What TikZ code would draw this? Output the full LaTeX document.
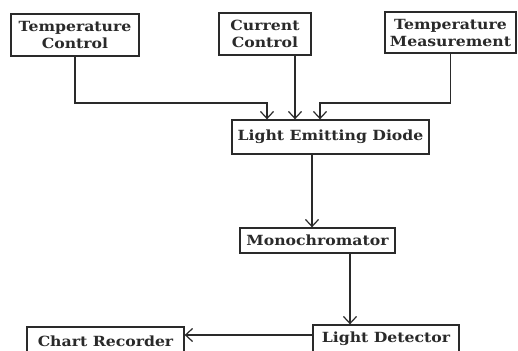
\documentclass[tikz,border=0pt]{standalone}
\usepackage{fontspec}
\setmainfont{DejaVu Serif}[BoldFeatures={FakeStretch=1.12}]
\usetikzlibrary{arrows.meta}
\definecolor{ink}{HTML}{2A2A2A}
\tikzset{
  blk/.style={draw=ink, line width=1.3pt, inner sep=0pt, align=center, text=ink,
    font=\fontsize{14}{17}\selectfont\bfseries},
  conn/.style={draw=ink, line width=1.3pt, -{Straight Barb[length=7pt,width=13pt,line width=1.2pt]}},
}
\begin{document}
\begin{tikzpicture}[x=1pt,y=-1pt]
\useasboundingbox[fill=white] (0,0) rectangle (518,350);
\node[blk, minimum width=128pt, minimum height=42pt] (tc) at (75,35) {Temperature\\Control};
\node[blk, minimum width=92pt, minimum height=42pt] (cc) at (265,34) {Current\\Control};
\node[blk, minimum width=131pt, minimum height=41pt] (tm) at (450.5,32.5) {Temperature\\Measurement};
\node[blk, minimum width=197pt, minimum height=34pt] (led) at (330.5,137) {Light Emitting Diode};
\node[blk, minimum width=155pt, minimum height=25pt] (mono) at (317.5,240.5) {Monochromator};
\node[blk, minimum width=146pt, minimum height=28pt] (ld) at (386,339) {Light Detector};
\node[blk, minimum width=157pt, minimum height=28pt] (cr) at (105.5,341) {Chart Recorder};
\coordinate (j1) at (75,103);
\coordinate (j2) at (450.5,103);
\draw[conn] (tc.south) -- (j1) -| (267,0 |- led.north);
\draw[conn] (295,0 |- cc.south) -- (295,0 |- led.north);
\draw[conn] (tm.south) -- (j2) -| (320,0 |- led.north);
\draw[conn] (312,0 |- led.south) -- (312,0 |- mono.north);
\draw[conn] (350,0 |- mono.south) -- (350,0 |- ld.north);
\draw[conn] (ld.west |- 0,335) -- (cr.east |- 0,335);
\end{tikzpicture}
\end{document}
